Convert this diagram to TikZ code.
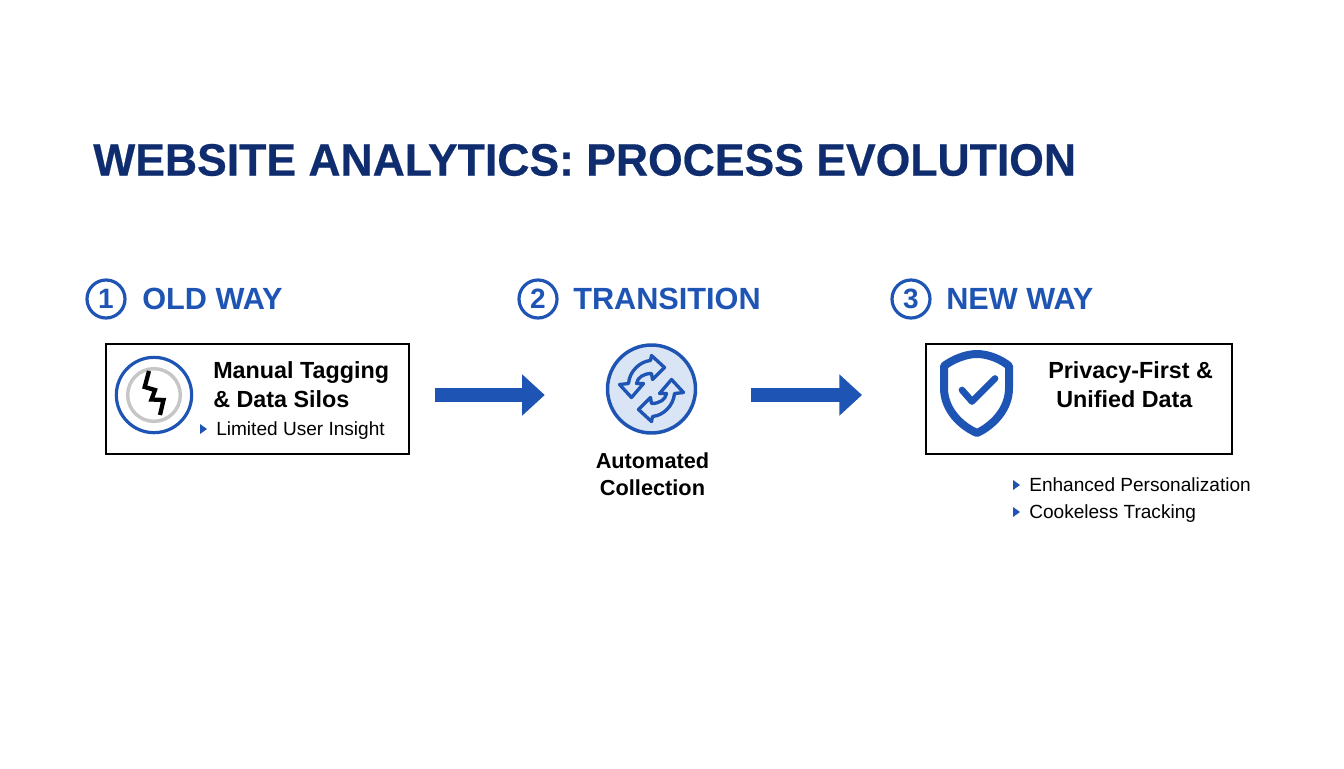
\documentclass[tikz,border=0pt]{standalone}
\usepackage{fontspec}
\setmainfont{Liberation Sans}
\newfontfamily\titlefont[FakeStretch=0.982,FakeBold=0.5]{Liberation Sans Bold}
\usepackage{xcolor}
\usetikzlibrary{arrows.meta}
\definecolor{hlnavy}{RGB}{15,45,110}
\definecolor{hlblue}{RGB}{30,84,180}
\definecolor{hlpale}{RGB}{217,228,245}
\definecolor{hlgrey}{RGB}{198,198,198}
\tikzset{
	steplabel/.style={text=hlblue, font=\bfseries\fontsize{23}{26}\selectfont, anchor=west, inner sep=0pt},
	numring/.style={circle, draw=hlblue, line width=2.4pt, minimum size=28.5pt, inner sep=0pt, text=hlblue, font=\bfseries\fontsize{21}{24}\selectfont},
	framebox/.style={draw=black, line width=1.8pt, inner sep=0pt},
	headtext/.style={font=\bfseries\fontsize{17.5}{21.8}\selectfont, align=left, anchor=west, inner sep=0pt},
	itemtext/.style={font=\fontsize{14.3}{18}\selectfont, anchor=base west, inner sep=0pt},
	itemtip/.style={fill=hlblue, draw=none},
	flowarrow/.style={draw=hlblue, line width=10.8pt, -{Triangle[length=17pt,width=30pt]}}
}
\begin{document}
\begin{tikzpicture}[x=0.75pt,y=-0.75pt]
	\useasboundingbox (0,0) rectangle (1344,768);

	\node (title) at (93,160) [anchor=west, inner sep=0pt, text=hlnavy, font=\titlefont\fontsize{34}{42}\selectfont] {WEBSITE ANALYTICS: PROCESS EVOLUTION};

	% step headings
	\node (numold) at (106,299) [numring] {1};
	\node (numtrans) at (538,299) [numring] {2};
	\node (numnew) at (911,299) [numring] {3};
	\node (labold) at (142,299) [steplabel] {OLD WAY};
	\node (labtrans) at (573,299) [steplabel] {TRANSITION};
	\node (labnew) at (946,299) [steplabel] {NEW WAY};

	% frames
	\node (boxold) at (257.5,399) [framebox, minimum width=227pt, minimum height=82.5pt] {};
	\node (boxnew) at (1079,399) [framebox, minimum width=229.2pt, minimum height=82.5pt] {};

	% old way
	\node (iconold) at (154,395) [circle, draw=hlblue, line width=2.4pt, minimum size=56.5pt, inner sep=0pt] {};
	\node (iconoldin) at (154,395) [circle, draw=hlgrey, line width=2.6pt, minimum size=39.5pt, inner sep=0pt] {};
	\draw[black, line width=3.2pt] (149,371) -- (144.7,387) -- (155,390) -- (151.5,399.5) -- (163.5,400) -- (160,415);
	\node (headold) at (213,385) [headtext] {Manual Tagging\\\& Data Silos};
	\fill[itemtip] (200,424) -- (207,429) -- (200,434) -- cycle;
	\node (itemold) at (216,435) [itemtext] {Limited User Insight};

	% transition
	\node (icontrans) at (651.5,389) [circle, draw=hlblue, fill=hlpale, line width=2.6pt, minimum size=66pt, inner sep=0pt] {};
	\begin{scope}[shift={(651.5,388.5)}]
		\foreach \r in {0,180} {
			\draw[hlblue, line width=2.5pt, line join=round, rotate=\r]
				(0,-33) -- (13,-21) -- (1,-9) -- (0,-15) .. controls (-8,-15) and (-14,-11) .. (-15,-5) -- (-8,-5) -- (-20,9) -- (-32,-4) -- (-23,-5) .. controls (-22,-17) and (-12,-27) .. (-1,-28) -- cycle;
		}
	\end{scope}
	\node (headtrans) at (652.5,474) [font=\bfseries\fontsize{16.3}{20.4}\selectfont, align=center, inner sep=0pt] {Automated\\Collection};

	% new way
	\node (iconnew) at (977,395) [inner sep=0pt, minimum width=55pt, minimum height=65pt] {};
	\draw[hlblue, line width=6pt, line join=round] (977,354) .. controls (965,354) and (952,360) .. (944,366) -- (944,388) .. controls (944,410) and (961,426) .. (977,433) .. controls (992,426) and (1009,410) .. (1009,388) -- (1009,366) .. controls (1002,360) and (989,354) .. cycle;
	\draw[hlblue, line width=5pt, line cap=round, line join=round] (962,390) -- (972,401.5) -- (995,378.5);
	\node (headnew) at (1048,385) [headtext] {Privacy-First \&\\\hspace*{6pt}Unified Data};
	\fill[itemtip] (1013,480) -- (1020,485) -- (1013,490) -- cycle;
	\node (itema) at (1029,491) [itemtext] {Enhanced Personalization};
	\fill[itemtip] (1013,507) -- (1020,512) -- (1013,517) -- cycle;
	\node (itemb) at (1029,518) [itemtext] {Cookeless Tracking};

	% flow
	\coordinate (flowa) at (0,395);
	\draw[flowarrow, shorten <=18.75pt, shorten >=45.75pt] (boxold.east |- flowa) -- (icontrans.west |- flowa);
	\draw[flowarrow, shorten <=40.5pt, shorten >=47.25pt] (icontrans.east |- flowa) -- (boxnew.west |- flowa);
\end{tikzpicture}
\end{document}
